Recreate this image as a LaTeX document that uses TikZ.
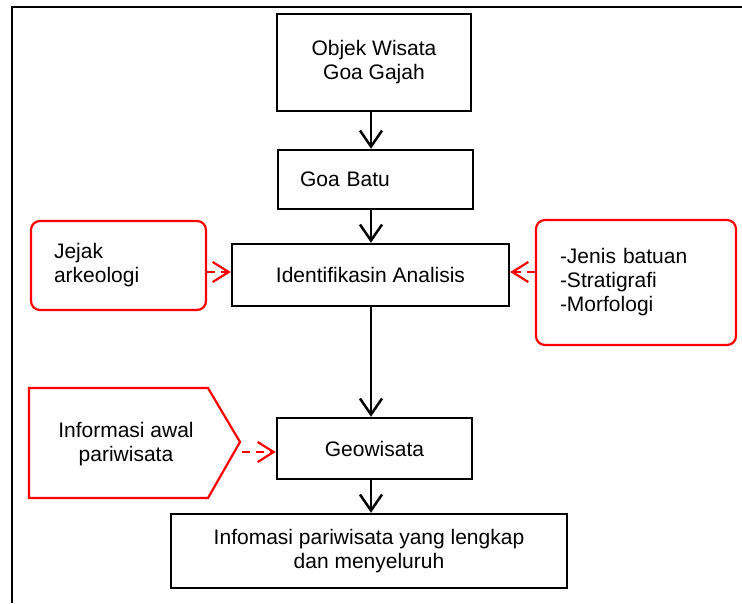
\documentclass[tikz,border=0pt]{standalone}
\usepackage{fontspec}
\setmainfont{Liberation Sans}
\usetikzlibrary{arrows.meta}
\definecolor{rd}{RGB}{255,0,0}
\tikzset{
 every node/.style={font=\fontsize{21}{24}\selectfont},
 bbox/.style={draw=black, line width=2.5pt, inner sep=0pt, align=center},
 rbox/.style={draw=rd, line width=2.2pt, rounded corners=9pt, inner ysep=0pt, align=left},
 flow/.style={line width=2.5pt, -{Straight Barb[length=16pt,width=22pt]}},
 rflow/.style={draw=rd, line width=2.2pt, dash pattern=on 8pt off 6pt, -{Straight Barb[length=16pt,width=20pt]}}
}
\begin{document}
\begin{tikzpicture}[x=1pt,y=-1pt]
\useasboundingbox (0,0) rectangle (742,603);
% frame
\draw[line width=2.8pt] (12,603) -- (12,7) -- (742,7);
\coordinate (ax) at (371,0);
\coordinate (ya) at (0,272);
\node[bbox, minimum width=194pt, minimum height=97pt] (obj) at (374,62.5) {Objek Wisata\\Goa Gajah};
\node[bbox, minimum width=195pt, minimum height=59pt, inner xsep=22pt, text width=151pt, align=left] (batu) at (375.5,179.5) {Goa Batu};
\node[bbox, minimum width=277pt, minimum height=62pt] (ident) at (370.5,275) {Identifikasin Analisis};
\node[bbox, minimum width=195pt, minimum height=61pt] (geo) at (374.5,448.5) {Geowisata};
\node[bbox, minimum width=396pt, minimum height=74pt] (info) at (369,551) {Infomasi pariwisata yang lengkap\\dan menyeluruh};
\node[rbox, minimum width=175pt, minimum height=89pt, inner xsep=23pt, text width=129pt] (jejak) at (118.5,265.5) {Jejak\\arkeologi};
\node[rbox, minimum width=200pt, minimum height=125pt, inner xsep=24pt, text width=152pt] (jenis) at (636,282.5) {-Jenis batuan\\-Stratigrafi\\-Morfologi};
% pentagon
\draw[rd, line width=2.2pt] (29,388) -- (208,388) -- (240,442) -- (208,498) -- (29,498) -- cycle;
\node[align=center] (awal) at (126,444) {Informasi awal\\pariwisata};
\coordinate (pa) at (242,452);
% arrows
\draw[flow] (obj.south -| ax) -- (batu.north -| ax);
\draw[flow] (batu.south -| ax) -- (ident.north -| ax);
\draw[flow] (ident.south -| ax) -- (geo.north -| ax);
\draw[flow] (geo.south -| ax) -- (info.north -| ax);
\draw[rflow] (jejak.east |- ya) -- (ident.west |- ya);
\draw[rflow] (jenis.west |- ya) -- (ident.east |- ya);
\draw[rflow] (pa) -- (pa -| geo.west);
\end{tikzpicture}
\end{document}
